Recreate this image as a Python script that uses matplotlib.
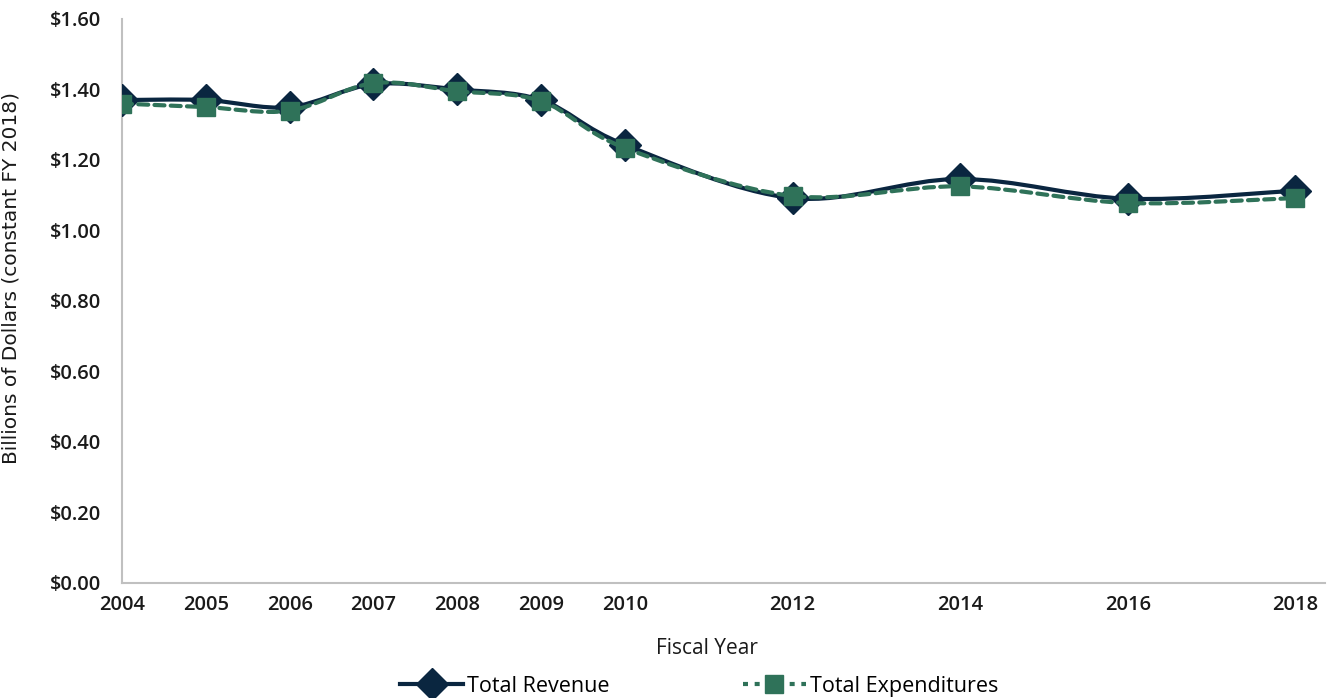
import matplotlib
matplotlib.use("Agg")
import matplotlib.pyplot as plt
import numpy as np
from matplotlib.path import Path
from matplotlib.patches import PathPatch
from matplotlib.lines import Line2D
from matplotlib.ticker import FuncFormatter

# fiscal years and totals (billions, constant FY 2018 dollars)
years = [2004, 2005, 2006, 2007, 2008, 2009, 2010, 2012, 2014, 2016, 2018]
revenue = [1.37, 1.37, 1.35, 1.415, 1.40, 1.37, 1.243, 1.092, 1.146, 1.09, 1.113]
expenditures = [1.36, 1.35, 1.34, 1.418, 1.395, 1.367, 1.234, 1.098, 1.125, 1.078, 1.092]

NAVY = "#0a2640"
GREEN = "#2f7259"
TEXT = "#1a1a1a"
FONT = ["Open Sans", "DejaVu Sans"]


def smooth_path(xs, ys):
    """Cubic Bezier path through the points, spreadsheet-style smoothing."""
    pts = np.column_stack([xs, ys]).astype(float)
    n = len(pts)
    verts = [pts[0]]
    codes = [Path.MOVETO]
    for i in range(n - 1):
        p0 = pts[i - 1] if i > 0 else pts[i]
        p1, p2 = pts[i], pts[i + 1]
        p3 = pts[i + 2] if i + 2 < n else pts[i + 1]
        c1 = p1 + (p2 - p0) / 6.0
        c2 = p2 - (p3 - p1) / 6.0
        verts += [c1, c2, p2]
        codes += [Path.CURVE4] * 3
    return Path(verts, codes)


fig = plt.figure(figsize=(13.32, 6.98), dpi=100)
ax = fig.add_axes([0.0916, 0.1648, 0.903, 0.808])

ax.add_patch(PathPatch(smooth_path(years, revenue), fill=False,
                       edgecolor=NAVY, lw=3.0, capstyle="round", zorder=2))
ax.plot(years, revenue, ls="none", marker="D", ms=16, color=NAVY, zorder=3)

ax.add_patch(PathPatch(smooth_path(years, expenditures), fill=False,
                       edgecolor=GREEN, lw=3.0, linestyle=(0, (2.4, 1.5)),
                       capstyle="round", zorder=4))
ax.plot(years, expenditures, ls="none", marker="s", ms=13, color=GREEN, zorder=5)

ax.set_xlim(2004, 2018.35)
ax.set_ylim(0, 1.6)
ax.set_xticks([2004, 2005, 2006, 2007, 2008, 2009, 2010, 2012, 2014, 2016, 2018])
ax.set_yticks(np.arange(0, 1.61, 0.2))
ax.yaxis.set_major_formatter(FuncFormatter(lambda v, _: f"${v:.2f}"))

for lab in ax.get_xticklabels() + ax.get_yticklabels():
    lab.set_family(FONT)
    lab.set_fontsize(14.5)
    lab.set_fontweight(600)
    lab.set_color(TEXT)
ax.tick_params(axis="both", length=0)
ax.tick_params(axis="x", pad=9)
ax.tick_params(axis="y", pad=15)

for side in ("top", "right"):
    ax.spines[side].set_visible(False)
for side in ("left", "bottom"):
    ax.spines[side].set_color("#c0c0c0")
    ax.spines[side].set_linewidth(1.5)

ax.set_xlabel("Fiscal Year", family=FONT, fontsize=15, color=TEXT)
ax.xaxis.set_label_coords(0.486, -0.098)
ax.set_ylabel("Billions of Dollars (constant FY 2018)",
              family=["Liberation Sans Narrow", "DejaVu Sans"], fontsize=14.5,
              color=TEXT)
ax.yaxis.set_label_coords(-0.084, 0.54)

handles = [
    Line2D([], [], color=NAVY, lw=3.0, marker="D", ms=16),
    Line2D([], [], color=GREEN, lw=3.0, ls=(0, (1.2, 1.6)), marker="s", ms=13),
]
fig.legend(handles, ["Total Revenue", "Total Expenditures"], loc="lower center",
           bbox_to_anchor=(0.525, -0.026), ncol=2, frameon=False, handlelength=2.9,
           handletextpad=0.2, columnspacing=6.2,
           prop={"family": FONT, "size": 15.5})

fig.savefig("out.png", dpi=100)
